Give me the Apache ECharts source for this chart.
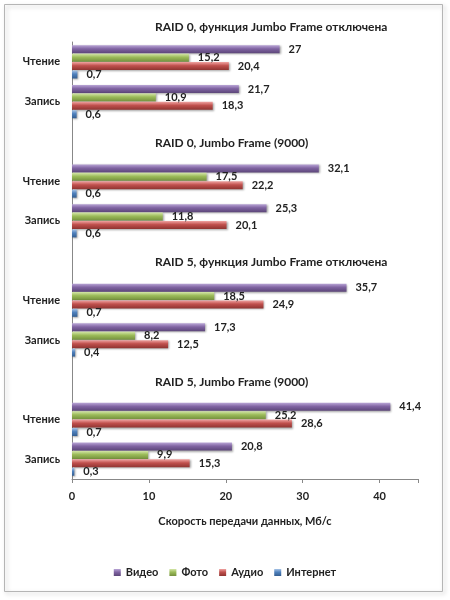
<!DOCTYPE html>
<html>
<head>
<meta charset="utf-8">
<script src="https://cdn.jsdelivr.net/npm/echarts@6/dist/echarts.min.js"></script>
<style>
  html, body { margin: 0; padding: 0; background: #fff; }
  #chart { width: 450px; height: 600px; }
</style>
</head>
<body>
<div id="chart"></div>
<script>
// data
var groupTitles = [
  'RAID 0, функция Jumbo Frame отключена',
  'RAID 0, Jumbo Frame (9000)',
  'RAID 5, функция Jumbo Frame отключена',
  'RAID 5, Jumbo Frame (9000)'
];
var modes = ['Чтение', 'Запись'];
var seriesNames = ['Видео', 'Фото', 'Аудио', 'Интернет'];
// per group: [Чтение, Запись]
var video    = [27, 21.7, 32.1, 25.3, 35.7, 17.3, 41.4, 20.8];
var photo    = [15.2, 10.9, 17.5, 11.8, 18.5, 8.2, 25.2, 9.9];
var audio    = [20.4, 18.3, 22.2, 20.1, 24.9, 12.5, 28.6, 15.3];
var internet = [0.7, 0.6, 0.6, 0.6, 0.7, 0.4, 0.7, 0.3];
var xTicks = [0, 10, 20, 30, 40];

var colors = [
  ['#b9a5d6', '#8064a2', '#5c4679'],
  ['#d4e6a8', '#9bbb59', '#74903d'],
  ['#f0a3a1', '#c0504d', '#8f3431'],
  ['#a7c3e6', '#4f81bd', '#345e91']
];

// category slots: a blank slot between groups holds the group title
var cats = [];
function withGaps(arr) {
  var out = [];
  for (var g = 0; g < groupTitles.length; g++) {
    if (g > 0) out.push('-');
    out.push(arr[g * 2], arr[g * 2 + 1]);
  }
  return out;
}
for (var g = 0; g < groupTitles.length; g++) {
  if (g > 0) cats.push('');
  cats.push(modes[0], modes[1]);
}

var font = 'Lato';
var allData = [video, photo, audio, internet];

var series = seriesNames.map(function (name, i) {
  return {
    name: name,
    type: 'bar',
    data: withGaps(allData[i]),
    barWidth: 8,
    barGap: '5%',
    itemStyle: {
      color: new echarts.graphic.LinearGradient(0, 0, 0, 1, [
        { offset: 0, color: colors[i][0] },
        { offset: 0.45, color: colors[i][1] },
        { offset: 1, color: colors[i][2] }
      ]),
      shadowColor: 'rgba(0,0,0,0.35)',
      shadowBlur: 2,
      shadowOffsetX: 1,
      shadowOffsetY: 1
    },
    label: {
      show: true,
      position: 'right',
      distance: 9,
      color: '#222',
      fontFamily: font,
      fontWeight: 'bold',
      fontSize: 11,
      formatter: function (p) { return String(p.value).replace('.', ','); }
    }
  };
});

var myChart = echarts.init(document.getElementById('chart'));
var option = {
  animation: false,
  color: colors.map(function (c) { return c[1]; }),
  grid: { left: 72, right: 32, top: 42, bottom: 121 },
  xAxis: {
    type: 'value',
    min: xTicks[0],
    max: 45,
    interval: 10,
    name: 'Скорость передачи данных, Мб/с',
    nameLocation: 'middle',
    nameGap: 37,
    nameTextStyle: { color: '#222', fontFamily: font, fontWeight: 'bold', fontSize: 11 },
    axisLine: { show: true, lineStyle: { color: '#888' } },
    axisTick: { show: true, length: 4, lineStyle: { color: '#888' } },
    splitLine: { show: false },
    axisLabel: {
      color: '#222', fontFamily: font, fontWeight: 'bold', fontSize: 11, margin: 12,
      formatter: function (v) { return xTicks.indexOf(v) >= 0 ? String(v) : ''; }
    }
  },
  yAxis: {
    type: 'category',
    inverse: true,
    data: cats,
    axisLine: { show: true, lineStyle: { color: '#888' } },
    axisTick: { show: false },
    axisLabel: { color: '#222', fontFamily: font, fontWeight: 'bold', fontSize: 11, margin: 12 }
  },
  legend: {
    data: seriesNames,
    bottom: 17,
    left: 'center',
    itemWidth: 7,
    itemHeight: 7,
    itemGap: 11,
    icon: 'rect',
    textStyle: { color: '#222', fontFamily: font, fontWeight: 'bold', fontSize: 11 }
  },
  series: series
};
myChart.setOption(option);

// titles in the blank slots above each group, placed through the axis scale
var graphics = [{
  type: 'rect',
  shape: { x: 4.5, y: 4.5, width: 438, height: 587 },
  style: { fill: 'none', stroke: '#b5b5b5', lineWidth: 1, shadowColor: 'rgba(0,0,0,0.25)', shadowBlur: 4, shadowOffsetX: 2, shadowOffsetY: 2 },
  z: -1
}];
var y0 = myChart.convertToPixel({ yAxisIndex: 0 }, 0);
var y1 = myChart.convertToPixel({ yAxisIndex: 0 }, 1);
var band = y1 - y0;
for (var g = 0; g < groupTitles.length; g++) {
  var yc = myChart.convertToPixel({ yAxisIndex: 0 }, g * 3) - band + (g === 0 ? 7 : 4);
  graphics.push({
    type: 'text',
    left: 155,
    top: yc - 8,
    style: {
      text: groupTitles[g],
      fill: '#222',
      font: 'bold 12px Lato'
    }
  });
}
myChart.setOption({ graphic: graphics });
</script>
</body>
</html>
